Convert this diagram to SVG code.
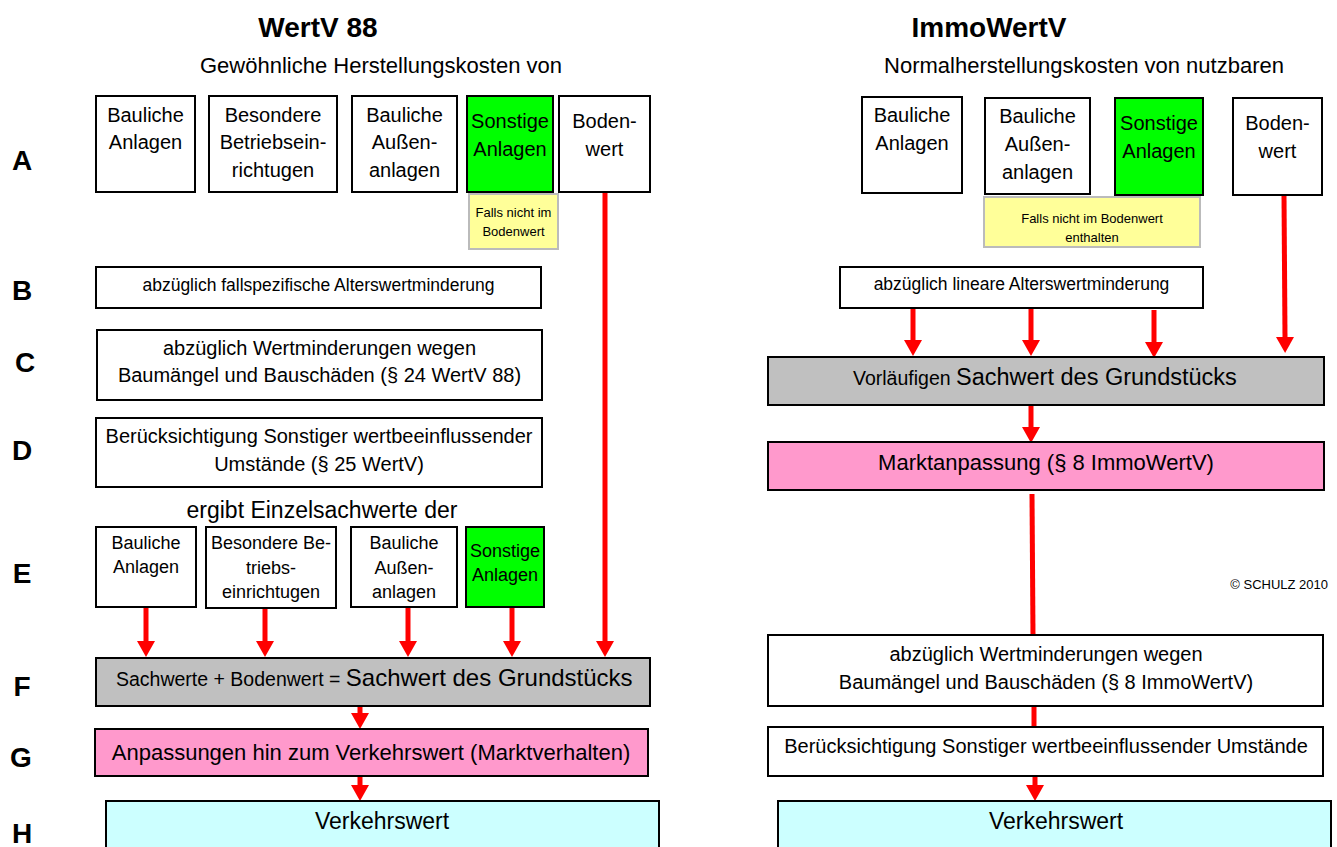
<svg xmlns="http://www.w3.org/2000/svg" width="1337" height="847" viewBox="0 0 1337 847">
<defs>
<marker id="ah" viewBox="0 0 16 18" markerUnits="userSpaceOnUse" markerWidth="16" markerHeight="18" refX="0" refY="9" orient="auto">
<path d="M0,0 L16,9 L0,18 z" fill="#FF0000"/>
</marker>
<style>
text{font-family:"Liberation Sans",Arial,sans-serif;fill:#000;}
.t{text-anchor:middle;}
.title{font-size:28px;font-weight:bold;text-anchor:middle;}
.sub{font-size:22px;text-anchor:middle;}
.lt{font-size:28px;font-weight:bold;text-anchor:middle;}
.b{fill:#fff;stroke:#000;stroke-width:2;}
.g{fill:#00FF00;stroke:#000;stroke-width:2;}
.gr{fill:#C0C0C0;stroke:#000;stroke-width:2;}
.pk{fill:#FF99CC;stroke:#000;stroke-width:2;}
.cy{fill:#CCFFFF;stroke:#000;stroke-width:2;}
.ye{fill:#FFFF99;stroke:#BBBBBB;stroke-width:2;}
.s20{font-size:20px;}
.s18{font-size:18px;}
.s17{font-size:17.5px;}
.s13{font-size:13px;}
.s22{font-size:22px;}
.s23{font-size:23px;}
.red{stroke:#FF0000;stroke-width:5;fill:none;}
.ra{stroke:#FF0000;stroke-width:5;fill:none;marker-end:url(#ah);}
</style>
</defs>

<g id="headings">
<text class="title" x="318" y="37">WertV 88</text>
<text class="sub" x="381" y="73">Gewöhnliche Herstellungskosten von</text>
<text class="title" x="989" y="37">ImmoWertV</text>
<text class="sub" x="1084" y="73">Normalherstellungskosten von nutzbaren</text>
<text class="s13" x="1328" y="589" text-anchor="end">© SCHULZ 2010</text>
</g>

<g id="row-letters">
<text class="lt" x="22" y="170">A</text>
<text class="lt" x="22" y="300">B</text>
<text class="lt" x="25" y="372">C</text>
<text class="lt" x="22" y="460">D</text>
<text class="lt" x="22" y="583">E</text>
<text class="lt" x="22" y="696">F</text>
<text class="lt" x="21" y="767">G</text>
<text class="lt" x="22" y="843">H</text>
</g>

<g id="connectors">
<line class="ra" x1="605" y1="192" x2="605" y2="641"/>
<line class="ra" x1="146" y1="608" x2="146" y2="641"/>
<line class="ra" x1="265" y1="608" x2="265" y2="641"/>
<line class="ra" x1="408" y1="608" x2="408" y2="641"/>
<line class="ra" x1="512" y1="608" x2="512" y2="641"/>
<line class="ra" x1="360" y1="699" x2="360" y2="713"/>
<line class="ra" x1="360" y1="767" x2="360" y2="785"/>
<line class="ra" x1="913" y1="308" x2="913" y2="340"/>
<line class="ra" x1="1031" y1="308" x2="1031" y2="340"/>
<line class="ra" x1="1154" y1="310" x2="1154" y2="342"/>
<line class="ra" x1="1284" y1="195" x2="1285" y2="337"/>
<line class="ra" x1="1031" y1="405" x2="1031" y2="427"/>
<line class="red" x1="1032" y1="494" x2="1033" y2="635"/>
<line class="red" x1="1034" y1="706" x2="1034" y2="727"/>
<line class="ra" x1="1035" y1="776" x2="1035" y2="785"/>
</g>

<g id="l-a1"><rect class="b" x="96" y="96" width="99" height="96"/>
<text class="t s20" x="145.5" y="122">Bauliche</text><text class="t s20" x="145.5" y="149">Anlagen</text></g>
<g id="l-a2"><rect class="b" x="209" y="96" width="128" height="96"/>
<text class="t s20" x="273" y="122">Besondere</text><text class="t s20" x="273" y="149">Betriebsein-</text><text class="t s20" x="273" y="177">richtugen</text></g>
<g id="l-a3"><rect class="b" x="352" y="96" width="105" height="96"/>
<text class="t s20" x="404.5" y="122">Bauliche</text><text class="t s20" x="404.5" y="149">Außen-</text><text class="t s20" x="404.5" y="177">anlagen</text></g>
<g id="l-a4"><rect class="g" x="467" y="96" width="86" height="96"/>
<text class="t s20" x="510" y="128">Sonstige</text><text class="t s20" x="510" y="156">Anlagen</text></g>
<g id="l-a5"><rect class="b" x="559" y="96" width="91" height="96"/>
<text class="t s20" x="604.5" y="128">Boden-</text><text class="t s20" x="604.5" y="156">wert</text></g>
<g id="l-note"><rect class="ye" x="469" y="194" width="89" height="55"/>
<text class="t s13" x="513.5" y="217">Falls nicht im</text><text class="t s13" x="513.5" y="236">Bodenwert</text></g>

<g id="l-b"><rect class="b" x="96" y="267" width="445" height="41"/>
<text class="t s17" x="318.5" y="291">abzüglich fallspezifische Alterswertminderung</text></g>
<g id="l-c"><rect class="b" x="97" y="330" width="445" height="70"/>
<text class="t s20" x="319.5" y="355">abzüglich Wertminderungen wegen</text><text class="t s20" x="319.5" y="382">Baumängel und Bauschäden (§ 24 WertV 88)</text></g>
<g id="l-d"><rect class="b" x="96" y="418" width="446" height="69"/>
<text class="t s20" x="319" y="443">Berücksichtigung Sonstiger wertbeeinflussender</text><text class="t s20" x="319" y="471">Umstände (§ 25 WertV)</text></g>
<g id="l-ergibt"><text class="t s23" x="322" y="518">ergibt Einzelsachwerte der</text></g>

<g id="l-e1"><rect class="b" x="96" y="527" width="100" height="80"/>
<text class="t s18" x="146" y="549">Bauliche</text><text class="t s18" x="146" y="573">Anlagen</text></g>
<g id="l-e2"><rect class="b" x="206" y="527" width="130" height="81"/>
<text class="t s18" x="271" y="549">Besondere Be-</text><text class="t s18" x="271" y="574">triebs-</text><text class="t s18" x="271" y="598">einrichtugen</text></g>
<g id="l-e3"><rect class="b" x="351" y="527" width="106" height="80"/>
<text class="t s18" x="404" y="549">Bauliche</text><text class="t s18" x="404" y="574">Außen-</text><text class="t s18" x="404" y="598">anlagen</text></g>
<g id="l-e4"><rect class="g" x="466" y="527" width="78" height="80"/>
<text class="t s18" x="505" y="557">Sonstige</text><text class="t s18" x="505" y="581">Anlagen</text></g>

<g id="l-f"><rect class="gr" x="96" y="658" width="554" height="48"/>
<text x="116" y="686"><tspan font-size="19.5px">Sachwerte + Bodenwert = </tspan><tspan font-size="24px">Sachwert des Grundstücks</tspan></text></g>
<g id="l-g"><rect class="pk" x="95" y="729" width="553" height="47"/>
<text class="t s22" x="371" y="760">Anpassungen hin zum Verkehrswert (Marktverhalten)</text></g>
<g id="l-h"><rect class="cy" x="106" y="801" width="553" height="60"/>
<text class="t s23" x="382" y="829">Verkehrswert</text></g>

<g id="r-a1"><rect class="b" x="862" y="97" width="100" height="96"/>
<text class="t s20" x="912" y="122">Bauliche</text><text class="t s20" x="912" y="150">Anlagen</text></g>
<g id="r-a2"><rect class="b" x="985" y="98" width="105" height="96"/>
<text class="t s20" x="1037.5" y="123">Bauliche</text><text class="t s20" x="1037.5" y="151">Außen-</text><text class="t s20" x="1037.5" y="179">anlagen</text></g>
<g id="r-a3"><rect class="g" x="1115" y="98" width="88" height="97"/>
<text class="t s20" x="1159" y="130">Sonstige</text><text class="t s20" x="1159" y="158">Anlagen</text></g>
<g id="r-a4"><rect class="b" x="1233" y="98" width="89" height="97"/>
<text class="t s20" x="1277.5" y="130">Boden-</text><text class="t s20" x="1277.5" y="158">wert</text></g>
<g id="r-note"><rect class="ye" x="984" y="197" width="216" height="50"/>
<text class="t s13" x="1092" y="223">Falls nicht im Bodenwert</text><text class="t s13" x="1092" y="242">enthalten</text></g>

<g id="r-b"><rect class="b" x="840" y="267" width="363" height="41"/>
<text class="t s17" x="1021.5" y="290">abzüglich lineare Alterswertminderung</text></g>
<g id="r-c"><rect class="gr" x="768" y="357" width="556" height="48"/>
<text x="853" y="385"><tspan font-size="19.5px">Vorläufigen </tspan><tspan font-size="23.5px">Sachwert des Grundstücks</tspan></text></g>
<g id="r-d"><rect class="pk" x="768" y="442" width="556" height="48"/>
<text class="t s22" x="1046" y="470">Marktanpassung (§ 8 ImmoWertV)</text></g>
<g id="r-e"><rect class="b" x="768" y="635" width="555" height="71"/>
<text class="t s20" x="1046" y="661">abzüglich Wertminderungen wegen</text><text class="t s20" x="1046" y="689">Baumängel und Bauschäden (§ 8 ImmoWertV)</text></g>
<g id="r-f"><rect class="b" x="768" y="727" width="555" height="49"/>
<text class="t s20" x="1046" y="753">Berücksichtigung Sonstiger wertbeeinflussender Umstände</text></g>
<g id="r-h"><rect class="cy" x="778" y="801" width="553" height="60"/>
<text class="t s23" x="1056" y="829">Verkehrswert</text></g>
</svg>
